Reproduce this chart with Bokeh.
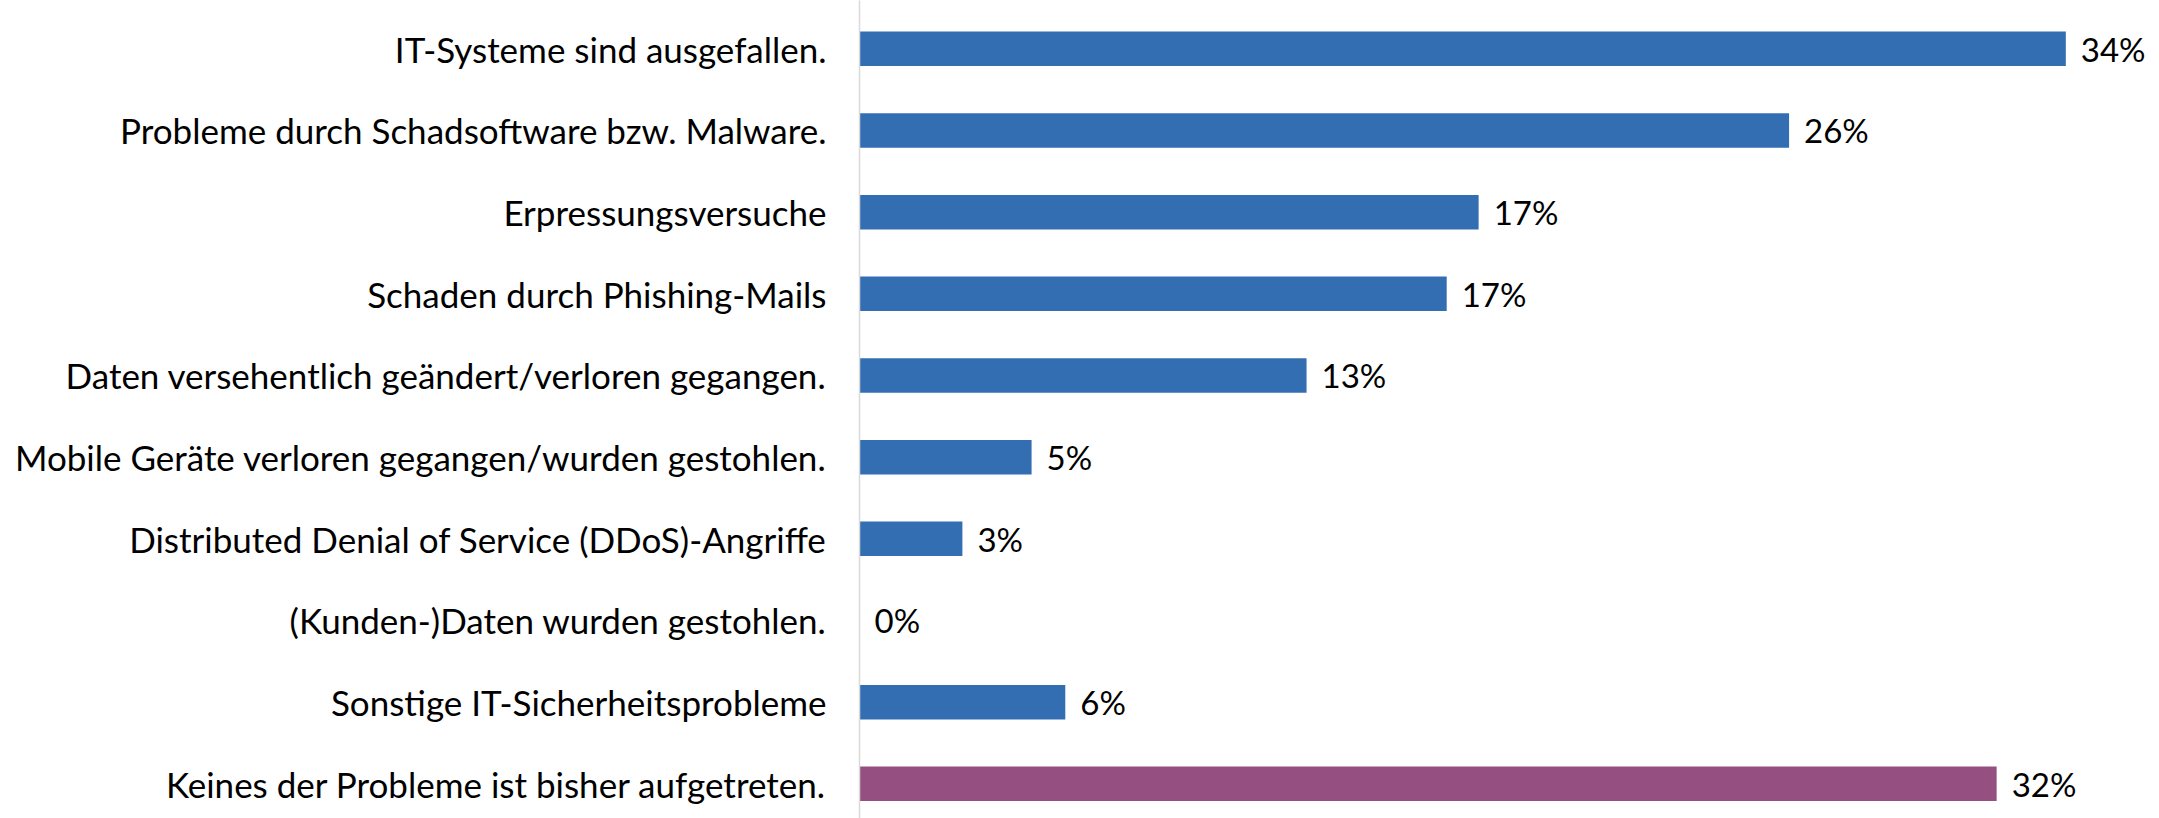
from bokeh.plotting import figure
from bokeh.models import Range1d, FixedTicker, ColumnDataSource
from bokeh.core.properties import value
from bokeh.embed import file_html
from bokeh.resources import INLINE

categories = [
    "IT-Systeme sind ausgefallen.",
    "Probleme durch Schadsoftware bzw. Malware.",
    "Erpressungsversuche",
    "Schaden durch Phishing-Mails",
    "Daten versehentlich geändert/verloren gegangen.",
    "Mobile Geräte verloren gegangen/wurden gestohlen.",
    "Distributed Denial of Service (DDoS)-Angriffe",
    "(Kunden-)Daten wurden gestohlen.",
    "Sonstige IT-Sicherheitsprobleme",
    "Keines der Probleme ist bisher aufgetreten.",
]
values = [34.0, 26.2, 17.45, 16.55, 12.6, 4.85, 2.9, 0.0, 5.8, 32.05]
labels = ["34%", "26%", "17%", "17%", "13%", "5%", "3%", "0%", "6%", "32%"]
colors = ["#336eb3"] * 9 + ["#954f80"]

ys = list(range(len(categories)))
src = ColumnDataSource(dict(y=ys, v=values, lab=labels, c=colors))

p = figure(width=2159, height=818, output_backend="svg", toolbar_location=None,
           x_range=Range1d(0, 36.64), y_range=Range1d(9.4245, -0.5914),
           x_axis_location=None,
           min_border_left=859, min_border_right=0, min_border_top=0, min_border_bottom=0)
p.outline_line_color = None
p.xgrid.visible = False
p.ygrid.visible = False

p.hbar(y="y", left=0, right="v", height=0.4225, fill_color="c", line_color=None, source=src)
p.text(x="v", y="y", text="lab", x_offset=15, text_baseline="middle", text_align="left",
       text_font=value("Lato"), text_font_size="33px", text_color="#000000", source=src)

ax = p.yaxis[0]
ax.ticker = FixedTicker(ticks=ys)
ax.major_label_overrides = {i: c for i, c in enumerate(categories)}
ax.major_tick_line_color = None
ax.minor_tick_line_color = None
ax.major_tick_out = 0
ax.major_tick_in = 0
ax.major_label_standoff = 33
ax.axis_line_color = "#d9d9d9"
ax.axis_line_width = 1.5
ax.major_label_text_font = "Lato"
ax.major_label_text_font_size = "35px"
ax.major_label_text_color = "#000000"

open("out.html", "w").write(file_html(p, INLINE))
